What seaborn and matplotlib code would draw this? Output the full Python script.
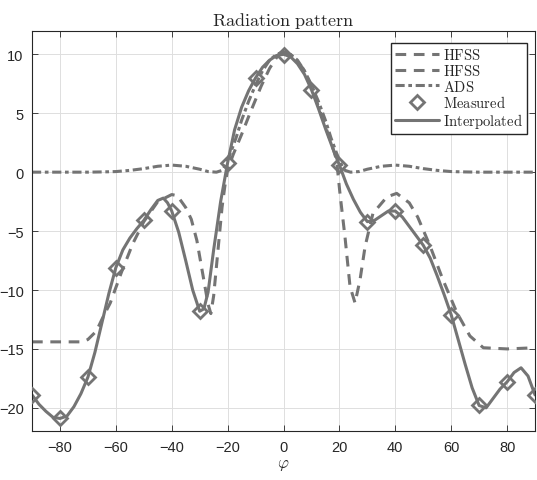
import numpy as np
import pandas as pd
import seaborn as sns
import matplotlib.pyplot as plt

sns.set_style("whitegrid")
plt.rcParams['font.family'] = ['Liberation Sans', 'DejaVu Sans']
plt.rcParams['mathtext.fontset'] = 'cm'

# Measured samples (every 10 degrees)
phi_meas = [-90, -80, -70, -60, -50, -40, -30, -20, -10, 0,
            10, 20, 30, 40, 50, 60, 70, 80, 90]
gain_meas = [-18.9, -20.9, -17.4, -8.1, -4.1, -3.3, -11.8, 0.8, 8.0, 9.9,
             7.0, 0.6, -4.2, -3.3, -6.2, -12.1, -19.8, -17.8, -18.9]

# Interpolated curve
phi_interp = [-90, -87.5, -85, -82.5, -80, -77.5, -75, -72.5, -70, -67.5,
              -65, -62.5, -60, -57.5, -55, -52.5, -50, -47.5, -45, -43,
              -41.5, -40, -37.5, -35, -32.5, -30, -28.5, -27, -25, -22.5,
              -20, -17.5, -15, -12.5, -10, -7.5, -5, -2.5, 0, 2.5,
              5, 7.5, 10, 12.5, 15, 17.5, 20, 22.5, 25, 27.5,
              30, 32.5, 35, 37.5, 40, 42.5, 45, 47.5, 50, 52.5,
              55, 57.5, 60, 62.5, 65, 67.5, 70, 72.5, 75, 77.5,
              80, 82.5, 85, 87.5, 90]
gain_interp = [-18.9, -19.7, -20.3, -20.8, -20.9, -20.7, -19.9, -18.8, -17.4, -15.3,
               -12.8, -10.3, -8.1, -6.6, -5.6, -4.8, -4.1, -3.2, -2.4, -2.2,
               -2.6, -3.3, -5.1, -7.5, -10.0, -11.8, -11.6, -10.2, -6.6, -2.5,
               0.8, 3.6, 5.5, 6.9, 8.0, 8.9, 9.5, 9.9, 10.0, 9.8,
               9.2, 8.3, 7.0, 5.4, 3.7, 2.1, 0.6, -1.0, -2.3, -3.4,
               -4.2, -4.1, -3.7, -3.3, -3.3, -3.8, -4.6, -5.4, -6.2, -7.3,
               -8.8, -10.4, -12.1, -14.2, -16.3, -18.3, -19.8, -20.0, -19.2, -18.4,
               -17.8, -17.0, -16.6, -17.3, -18.9]

# HFSS simulation, left half
phi_hfss_l = [-90, -80, -72, -70, -67, -65, -62, -60, -58, -54,
              -50, -45, -40, -38, -35, -33, -31, -29, -27, -26,
              -25, -24, -23, -22, -21, -20, -18, -15, -12, -8,
              -5, -2, 0]
gain_hfss_l = [-14.4, -14.4, -14.4, -14.2, -13.5, -12.5, -11.1, -9.8, -8.5, -6.1,
               -4.2, -2.5, -1.9, -2.0, -3.0, -4.0, -5.8, -8.5, -11.2, -12.0,
               -10.5, -8.0, -5.5, -3.0, -1.2, 0.2, 1.5, 3.2, 5.0, 7.3,
               8.8, 9.9, 10.2]

# HFSS simulation, right half
phi_hfss_r = [0, 2, 4, 7, 10, 12, 15, 18, 19, 20.2,
              22, 23.8, 25.6, 27.4, 29.2, 32, 37, 40.5, 45, 48,
              52.5, 57, 62, 66.7, 71.5, 80, 90]
gain_hfss_r = [10.2, 10.0, 9.6, 8.8, 7.3, 5.9, 3.9, 1.8, 1.0, -1.8,
               -5.5, -9.7, -11.1, -9.1, -6.3, -3.5, -2.1, -1.8, -2.6, -3.8,
               -6.3, -9.1, -11.9, -13.9, -14.9, -15.0, -14.9]

# ADS simulation
phi_ads = [-90, -70, -65, -60, -55, -50, -45, -40, -35, -30,
           -27, -24, -22, -21, -19, -17, -15, -12.5, -10, -7.5,
           -5, -2.5, 0, 2.5, 5, 7.5, 10, 12.5, 15, 17,
           19, 21, 22, 24, 27, 30, 35, 40, 45, 50,
           55, 60, 65, 70, 90]
gain_ads = [0.0, 0.0, 0.02, 0.05, 0.15, 0.3, 0.5, 0.6, 0.5, 0.25,
            0.05, 0.0, 0.15, 0.5, 1.6, 2.9, 4.4, 6.0, 7.4, 8.6,
            9.5, 10.0, 10.2, 10.0, 9.5, 8.6, 7.4, 6.0, 4.4, 2.9,
            1.6, 0.5, 0.15, 0.0, 0.05, 0.25, 0.5, 0.6, 0.5, 0.3,
            0.15, 0.05, 0.02, 0.0, 0.0]

line_color = '#747474'

fig = plt.figure(figsize=(5.37, 4.81), dpi=100)
ax = fig.add_axes([0.0596, 0.101, 0.9367, 0.833])

h1 = sns.lineplot(x=phi_hfss_l, y=gain_hfss_l, ax=ax, color=line_color,
                  linewidth=2.2, label='HFSS').lines[-1]
h1.set_dashes((3.5, 2.5))
h2 = sns.lineplot(x=phi_hfss_r, y=gain_hfss_r, ax=ax, color=line_color,
                  linewidth=2.2, label='HFSS').lines[-1]
h2.set_dashes((3.5, 2.5))
h3 = sns.lineplot(x=phi_ads, y=gain_ads, ax=ax, color=line_color,
                  linewidth=2.2, label='ADS').lines[-1]
h3.set_dashes((3.0, 1.2, 1.2, 1.2))
h5 = sns.lineplot(x=phi_interp, y=gain_interp, ax=ax, color=line_color,
                  linewidth=2.2, label='Interpolated').lines[-1]
h4 = sns.lineplot(x=phi_meas, y=gain_meas, ax=ax, color=line_color,
                  marker='D', linestyle='', markersize=7,
                  markerfacecolor='none', markeredgecolor=line_color,
                  markeredgewidth=2.0, label='Measured').lines[-1]
h4.set_zorder(5)

ax.set_xlim(-90, 90)
ax.set_ylim(-22, 12)
ax.set_xticks(np.arange(-80, 81, 20))
ax.set_yticks(np.arange(-20, 11, 5))
ax.tick_params(axis='both', direction='in', length=4, width=0.6, color='#262626',
               labelsize=10.5, labelcolor='#262626', top=True, right=True,
               bottom=True, left=True, pad=6)
ax.grid(True, color='#dedede', linewidth=0.7)
for s in ax.spines.values():
    s.set_color('#262626')
    s.set_linewidth(0.8)

ax.set_title(r'$\mathrm{Radiation\ pattern}$', fontsize=13, pad=4)
ax.set_xlabel(r'$\varphi$', fontsize=12, labelpad=2, color='#262626')

ax.legend(handles=[h1, h2, h3, h4, h5],
          labels=[r'$\mathrm{HFSS}$', r'$\mathrm{HFSS}$', r'$\mathrm{ADS}$',
                  r'$\mathrm{Measured}$', r'$\mathrm{Interpolated}$'],
          loc='upper right', bbox_to_anchor=(0.985, 0.97), fontsize=10.5,
          frameon=True, fancybox=False, framealpha=1, edgecolor='#262626',
          borderpad=0.3, labelspacing=0.05, handlelength=3.0,
          handletextpad=0.3, borderaxespad=0.0)

plt.savefig('out.png', dpi=100)
